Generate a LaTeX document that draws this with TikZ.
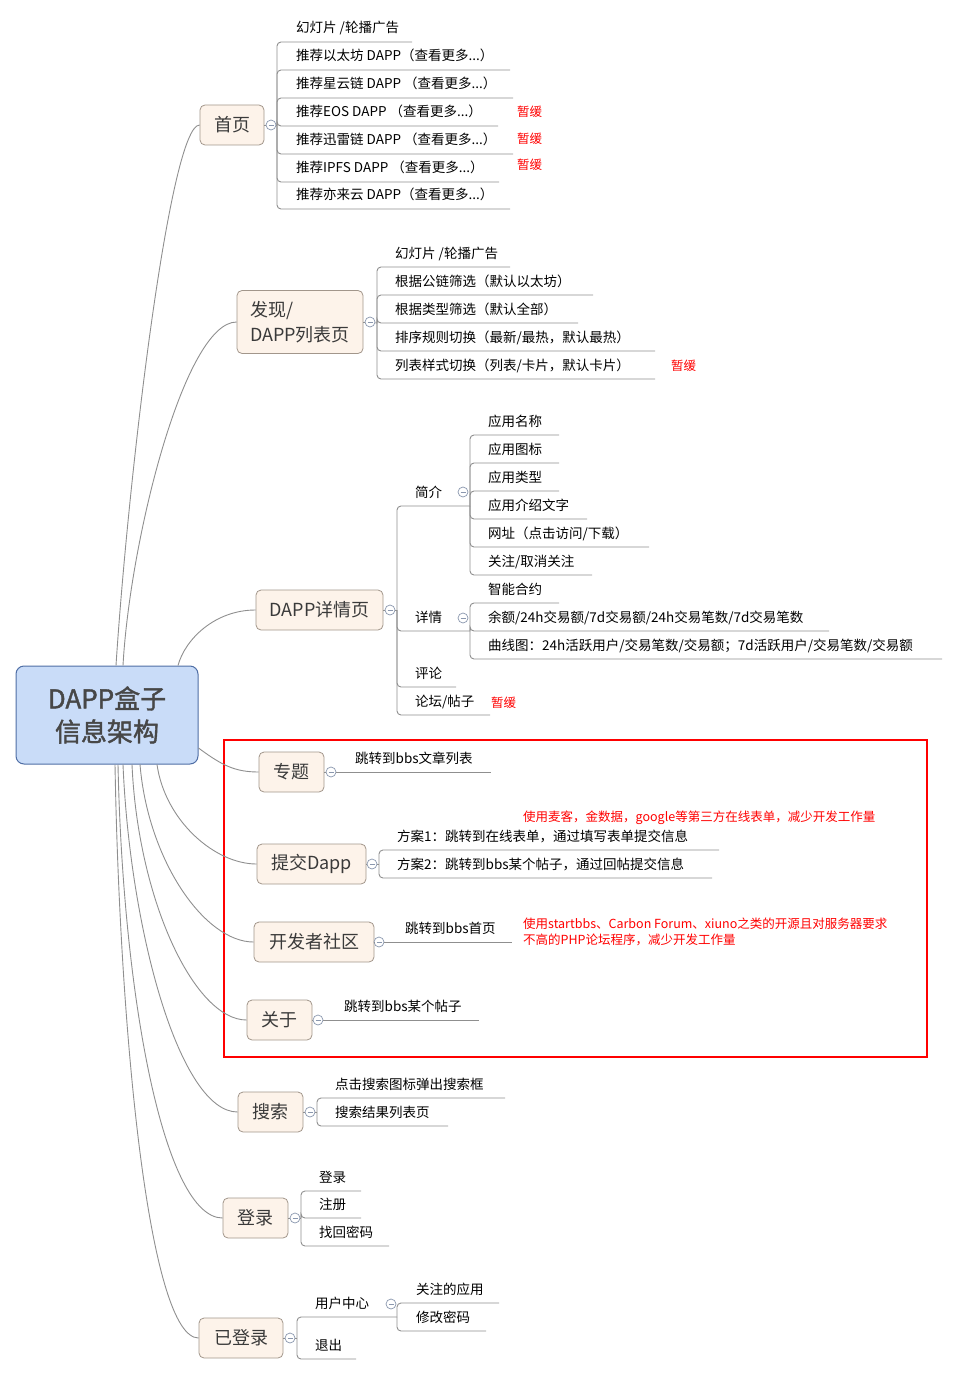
\documentclass[tikz,border=0pt]{standalone}
\usepackage{fontspec}
\setmainfont{Noto Sans CJK SC}
\newfontfamily\rootfont[FakeBold=1.5]{Noto Sans CJK SC}
\usetikzlibrary{positioning}
\definecolor{rootfill}{HTML}{C9DCF8}
\definecolor{rootline}{HTML}{4F6EA5}
\definecolor{topicfill}{HTML}{FDF3EA}
\definecolor{topicline}{HTML}{A2968B}
\definecolor{wirecolor}{HTML}{8F8F8F}
\definecolor{foldline}{HTML}{8A97AE}
\definecolor{titletext}{HTML}{3A3A3A}
\definecolor{roottext}{HTML}{474747}
\definecolor{memored}{HTML}{FF0000}

\begin{document}
\begin{tikzpicture}[x=1pt,y=-1pt,
                    font=\fontsize{13.5}{16}\selectfont,
                    rootbox/.style={draw=rootline,fill=rootfill,line width=1pt,rounded corners=8pt,
                        minimum width=182pt,minimum height=98pt,align=center,text=roottext,
                        font=\fontsize{26}{33}\rootfont},
                    topicbox/.style={draw=topicline,fill=topicfill,line width=0.8pt,rounded corners=5pt,
                        minimum height=40pt,text=titletext,font=\fontsize{18}{25}\selectfont},
                    item/.style={anchor=base west,inner sep=0pt},
                    memo/.style={anchor=base west,inner sep=0pt,text=memored,font=\fontsize{12.5}{16}\selectfont},
                    wire/.style={draw=wirecolor,line width=0.9pt},
                    fold/.style={circle,draw=foldline,fill=white,line width=0.7pt,minimum size=10pt,inner sep=0pt,
                        path picture={\draw[foldline,line width=0.8pt] ([xshift=-2.5pt]path picture bounding box.center) -- ([xshift=2.5pt]path picture bounding box.center);}}]
                    \useasboundingbox (0,0) rectangle (959,1375);

                    \draw[memored,line width=2pt] (224,740) rectangle (927,1057);

                    \node[rootbox] (root) at (107,715) {DAPP盒子\\信息架构};

                    \node[topicbox,minimum width=64pt] (home) at (232,125) {首页};
                    \node[topicbox,minimum height=63pt,text width=100pt,inner xsep=13pt,align=left] (disc) at (300,322) {发现/\\DAPP列表页};
                    \node[topicbox,minimum width=127pt] (detail) at (319.5,610) {DAPP详情页};
                    \node[topicbox,minimum width=65pt] (topic) at (291.5,772) {专题};
                    \node[topicbox,minimum width=109pt] (submit) at (311.5,864) {提交Dapp};
                    \node[topicbox,minimum width=120pt] (dev) at (314,942) {开发者社区};
                    \node[topicbox,minimum width=65pt] (about) at (279.5,1020) {关于};
                    \node[topicbox,minimum width=65pt] (search) at (270.5,1112) {搜索};
                    \node[topicbox,minimum width=65pt] (login) at (255.5,1218) {登录};
                    \node[topicbox,minimum width=84pt] (logged) at (241,1338) {已登录};

                    \draw[wire] ([xshift=9]root.north) .. controls +(12,-186) and +(-30,0) .. (home.west);
                    \draw[wire] ([xshift=16]root.north) .. controls +(7,-126) and +(-52,0) .. (disc.west);
                    \draw[wire] ([xshift=71]root.north) .. controls +(7,-26) and +(-41,0) .. (detail.west);
                    \draw[wire] ([yshift=-33]root.east) .. controls +(23,17) and +(-24,0) .. (topic.west);
                    \draw[wire] ([xshift=50]root.south) .. controls +(8,56) and +(-42,0) .. (submit.west);
                    \draw[wire] ([xshift=33]root.south) .. controls +(8,96) and +(-49,0) .. (dev.west);
                    \draw[wire] ([xshift=25]root.south) .. controls +(6,136) and +(-52,0) .. (about.west);
                    \draw[wire] ([xshift=16]root.south) .. controls +(7,166) and +(-58,0) .. (search.west);
                    \draw[wire] ([xshift=11]root.south) .. controls +(5,236) and +(-58,0) .. (login.west);
                    \draw[wire] ([xshift=8]root.south) .. controls +(5,276) and +(-49,0) .. (logged.west);

                    \node[fold] (home-f) at (271,125) {};
                    \node[fold] (disc-f) at (370,322) {};
                    \node[fold] (detail-f) at (390,610) {};
                    \node[fold] (intro-f) at (463,492) {};
                    \node[fold] (info-f) at (463,618) {};
                    \node[fold] (topic-f) at (331,772) {};
                    \node[fold] (submit-f) at (372,864) {};
                    \node[fold] (dev-f) at (379,942) {};
                    \node[fold] (about-f) at (318,1020) {};
                    \node[fold] (search-f) at (310,1112) {};
                    \node[fold] (login-f) at (295,1218) {};
                    \node[fold] (logged-f) at (290,1338) {};
                    \node[fold] (ucenter-f) at (391,1304) {};

                    \foreach \t in {home,disc,detail,topic,submit,dev,about,search,login,logged}
                        \draw[wire] (\t) -- (\t-f);

                    \draw[wire] (home-f) -- (277,125);
                    \foreach \u/\e/\t [count=\i] in {42/412/{幻灯片 /轮播广告},70/510/{推荐以太坊 DAPP（查看更多...）},
                        98/513/{推荐星云链 DAPP （查看更多...）},126/498/{推荐EOS DAPP （查看更多...）},
                        154/513/{推荐迅雷链 DAPP （查看更多...）},182/499/{推荐IPFS DAPP （查看更多...）},
                        209/510/{推荐亦来云 DAPP（查看更多...）}}{
                        \node[item] (home-\i) at (296,\u-9) {\t};
                        \draw[wire,rounded corners=4] (\e,\u) -- (277,\u) -- (277,125);
                    }
                    \foreach \y [count=\i] in {117,144,170}
                        \node[memo] (home-m\i) at (517,\y) {暂缓};

                    \draw[wire] (disc-f) -- (377,323);
                    \foreach \u/\e/\t [count=\i] in {267/510/{幻灯片 /轮播广告},295/593/{根据公链筛选（默认以太坊）},
                        323/578/{根据类型筛选（默认全部）},351/655/{排序规则切换（最新/最热，默认最热）},
                        379/655/{列表样式切换（列表/卡片，默认卡片）}}{
                        \node[item] (disc-\i) at (395,\u-9) {\t};
                        \draw[wire,rounded corners=4] (\e,\u) -- (377,\u) -- (377,323);
                    }
                    \node[memo] (disc-m) at (671,370) {暂缓};

                    \draw[wire] (detail-f) -- (397,610);
                    \foreach \u/\e/\t/\n in {506/470/{简介}/intro,631/470/{详情}/info,687/456/{评论}/talk,715/490/{论坛/帖子}/forum}{
                        \node[item] (\n) at (415,\u-9) {\t};
                        \draw[wire,rounded corners=4] (\e,\u) -- (397,\u) -- (397,610);
                    }
                    \node[memo] (forum-m) at (491,707) {暂缓};

                    \foreach \u/\e/\t [count=\i] in {435/559/{应用名称},463/559/{应用图标},491/559/{应用类型},
                        519/587/{应用介绍文字},547/649/{网址（点击访问/下载）},575/592/{关注/取消关注}}{
                        \node[item] (intro-\i) at (488,\u-9) {\t};
                        \draw[wire,rounded corners=4] (\e,\u) -- (470,\u) -- (470,506);
                    }
                    \foreach \u/\e/\t [count=\i] in {603/559/{智能合约},631/829/{余额/24h交易额/7d交易额/24h交易笔数/7d交易笔数},
                        659/942/{曲线图：24h活跃用户/交易笔数/交易额；7d活跃用户/交易笔数/交易额}}{
                        \node[item] (info-\i) at (488,\u-9) {\t};
                        \draw[wire,rounded corners=4] (\e,\u) -- (470,\u) -- (470,631);
                    }

                    \node[item] (topic-1) at (355,763) {跳转到bbs文章列表};
                    \draw[wire] (topic-f) -- (491,772);

                    \draw[wire] (submit-f) -- (379,864);
                    \foreach \u/\e/\t [count=\i] in {850/719/{方案1：跳转到在线表单，通过填写表单提交信息},
                        878/712/{方案2：跳转到bbs某个帖子，通过回帖提交信息}}{
                        \node[item] (submit-\i) at (397,\u-9) {\t};
                        \draw[wire,rounded corners=4] (\e,\u) -- (379,\u) -- (379,864);
                    }
                    \node[memo] (submit-m) at (523,821) {使用麦客，金数据，google等第三方在线表单，减少开发工作量};

                    \node[item] (dev-1) at (405,933) {跳转到bbs首页};
                    \draw[wire] (dev-f) -- (512,942);
                    \node[memo,anchor=west,align=left] (dev-m) at (523,932) {使用startbbs、Carbon Forum、xiuno之类的开源且对服务器要求\\不高的PHP论坛程序，减少开发工作量};

                    \node[item] (about-1) at (344,1011) {跳转到bbs某个帖子};
                    \draw[wire] (about-f) -- (479,1020);

                    \draw[wire] (search-f) -- (317,1112);
                    \foreach \u/\e/\t [count=\i] in {1098/505/{点击搜索图标弹出搜索框},1126/448/{搜索结果列表页}}{
                        \node[item] (search-\i) at (335,\u-9) {\t};
                        \draw[wire,rounded corners=4] (\e,\u) -- (317,\u) -- (317,1112);
                    }

                    \draw[wire] (login-f) -- (301,1218);
                    \foreach \u/\e/\t [count=\i] in {1191/361/{登录},1218/361/{注册},1246/389/{找回密码}}{
                        \node[item] (login-\i) at (319,\u-9) {\t};
                        \draw[wire,rounded corners=4] (\e,\u) -- (301,\u) -- (301,1218);
                    }

                    \draw[wire] (logged-f) -- (297,1338);
                    \foreach \u/\e/\t/\n in {1317/397/{用户中心}/ucenter,1359/356/{退出}/logout}{
                        \node[item] (\n) at (315,\u-9) {\t};
                        \draw[wire,rounded corners=4] (\e,\u) -- (297,\u) -- (297,1338);
                    }
                    \foreach \u/\e/\t [count=\i] in {1303/499/{关注的应用},1331/486/{修改密码}}{
                        \node[item] (ucenter-\i) at (416,\u-9) {\t};
                        \draw[wire,rounded corners=4] (\e,\u) -- (397,\u) -- (397,1317);
                    }
                \end{tikzpicture}
\end{document}
